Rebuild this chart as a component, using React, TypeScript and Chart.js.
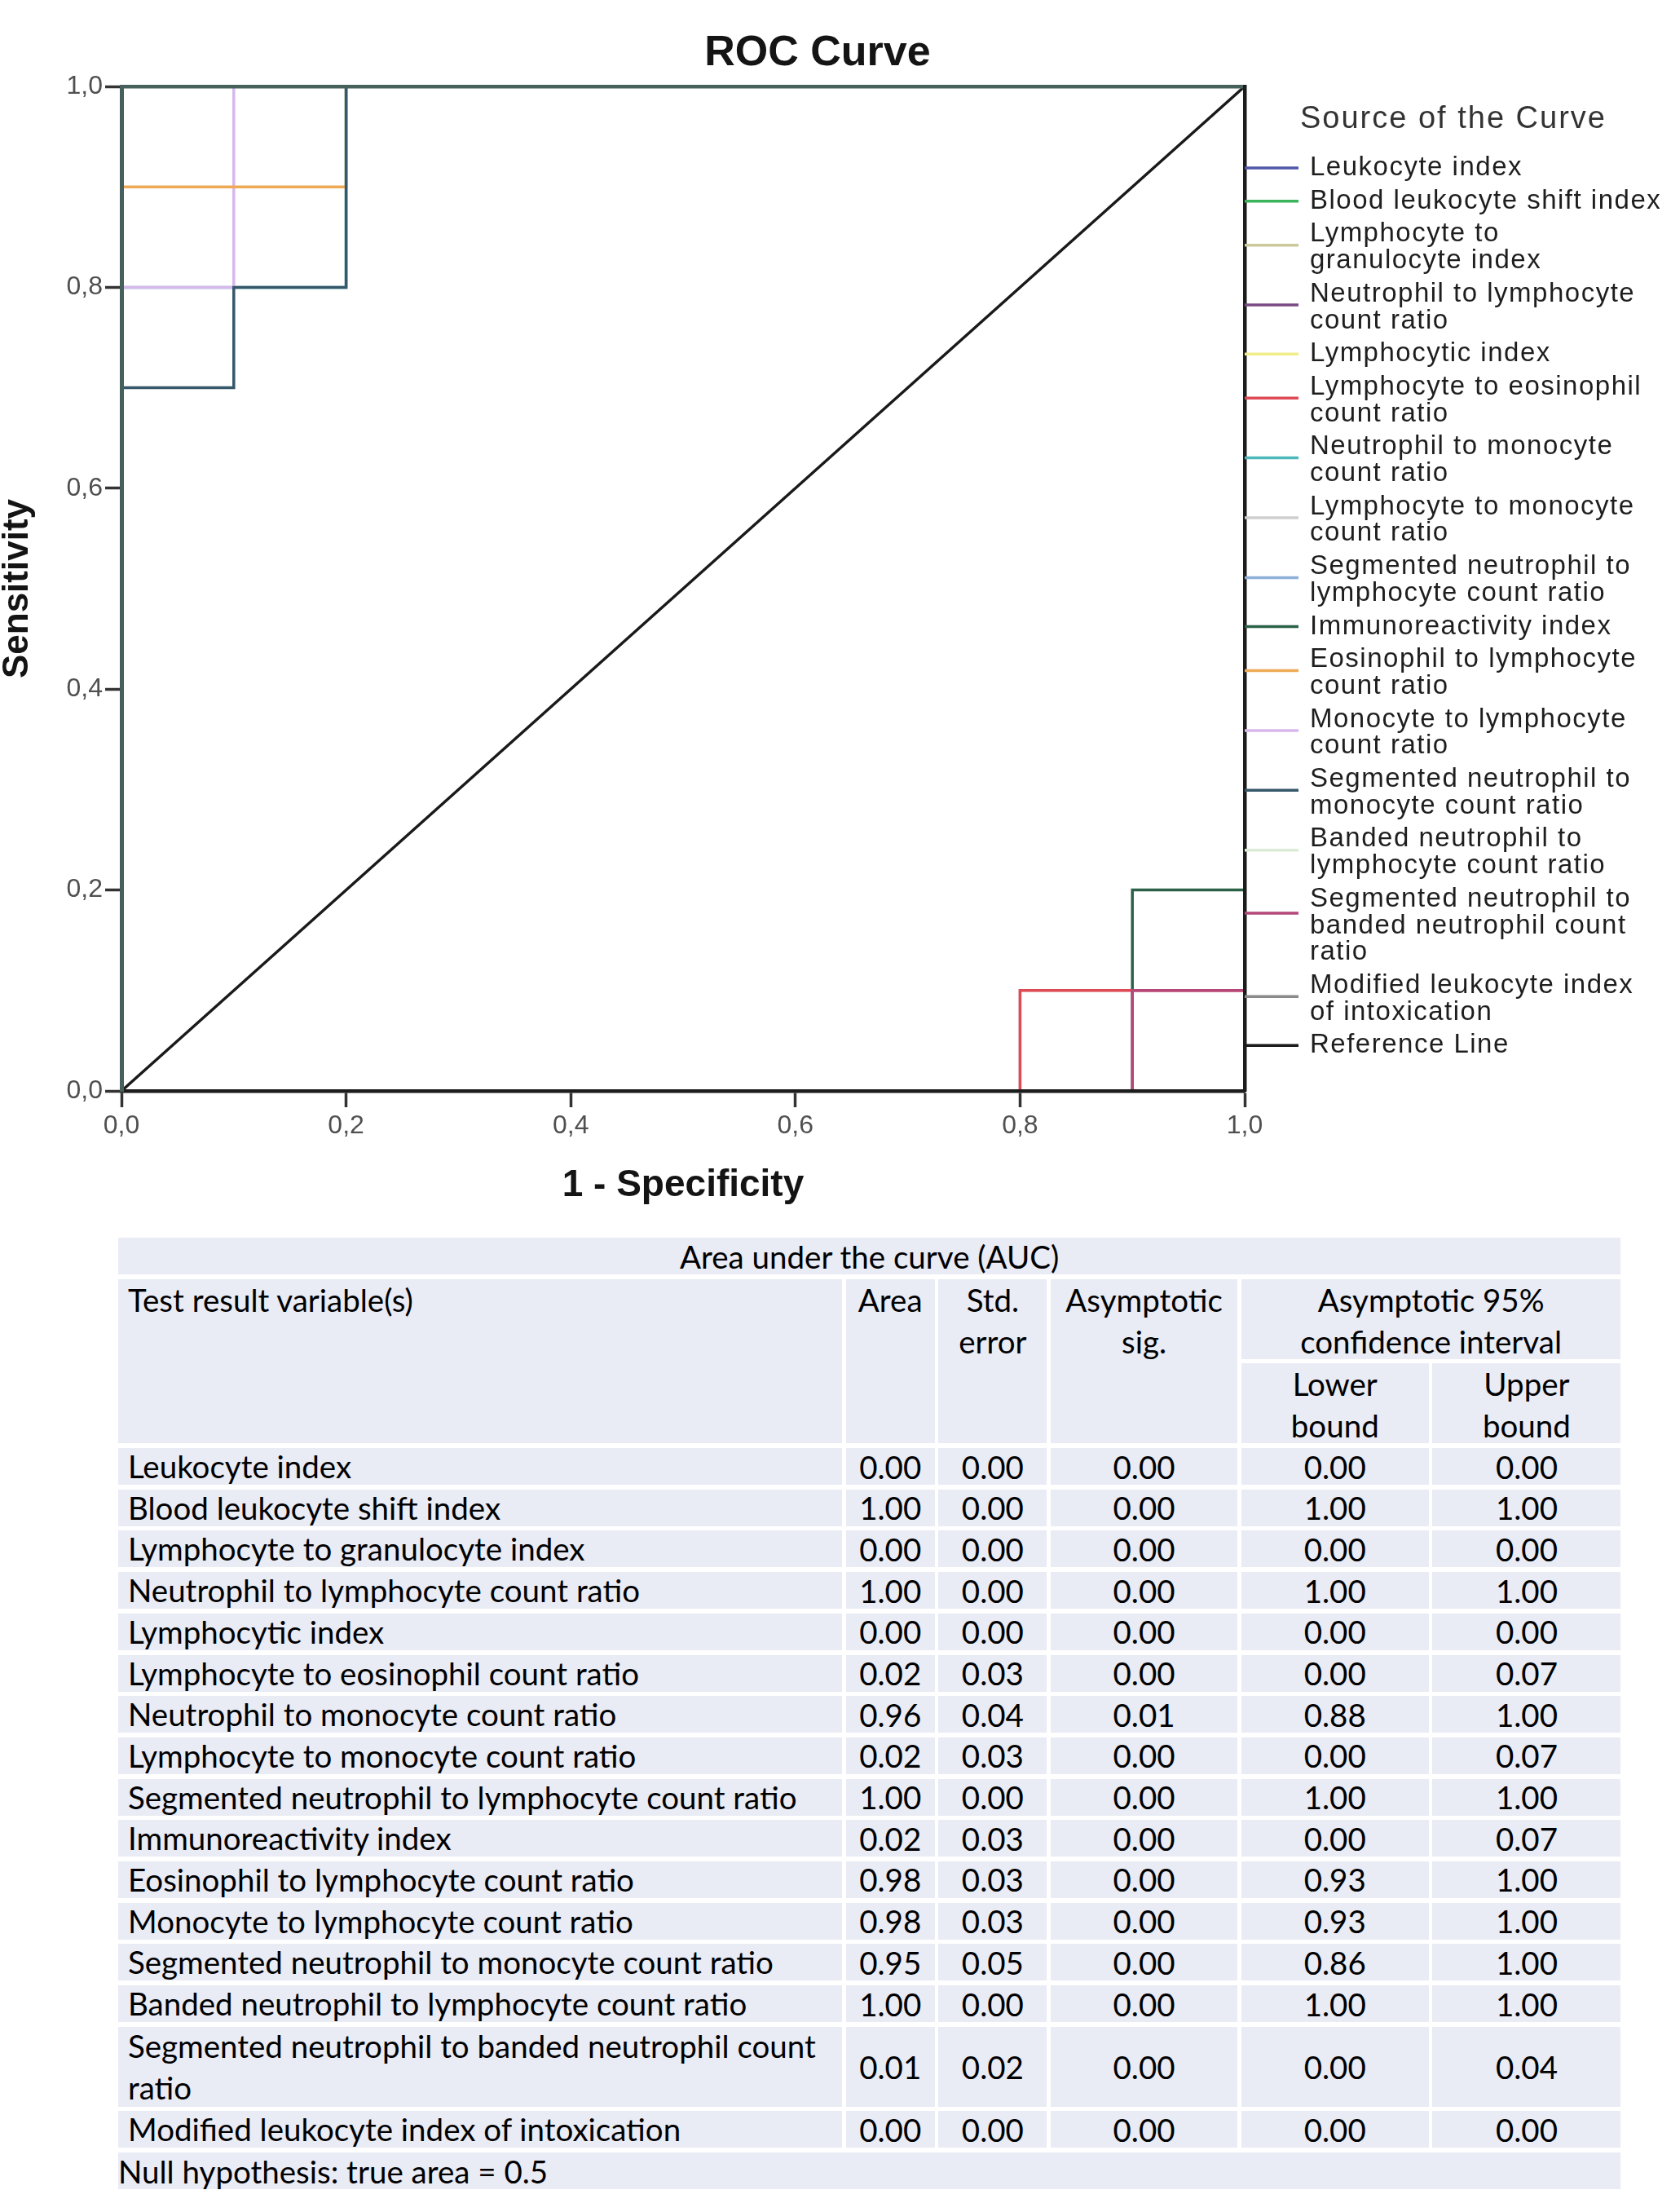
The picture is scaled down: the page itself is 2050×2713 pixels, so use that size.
import React, { useEffect, useRef } from "react";
import { Chart, registerables } from "chart.js";

Chart.register(...registerables);

// ---------- DATA ----------
const chartTitle = "ROC Curve";
const legendTitle = "Source of the Curve";
const xAxisTitle = "1 - Specificity";
const yAxisTitle = "Sensitivity";
const tickLabels = ["0,0", "0,2", "0,4", "0,6", "0,8", "1,0"];

const seriesNames = [
  "Leukocyte index",
  "Blood leukocyte shift index",
  "Lymphocyte to granulocyte index",
  "Neutrophil to lymphocyte count ratio",
  "Lymphocytic index",
  "Lymphocyte to eosinophil count ratio",
  "Neutrophil to monocyte count ratio",
  "Lymphocyte to monocyte count ratio",
  "Segmented neutrophil to lymphocyte count ratio",
  "Immunoreactivity index",
  "Eosinophil to lymphocyte count ratio",
  "Monocyte to lymphocyte count ratio",
  "Segmented neutrophil to monocyte count ratio",
  "Banded neutrophil to lymphocyte count ratio",
  "Segmented neutrophil to banded neutrophil count ratio",
  "Modified leukocyte index of intoxication",
];
const referenceName = "Reference Line";

// legend labels as wrapped in the reference
const legendLabels = [
  "Leukocyte index",
  "Blood leukocyte shift index",
  "Lymphocyte to\ngranulocyte index",
  "Neutrophil to lymphocyte\ncount ratio",
  "Lymphocytic index",
  "Lymphocyte to eosinophil\ncount ratio",
  "Neutrophil to monocyte\ncount ratio",
  "Lymphocyte to monocyte\ncount ratio",
  "Segmented neutrophil to\nlymphocyte count ratio",
  "Immunoreactivity index",
  "Eosinophil to lymphocyte\ncount ratio",
  "Monocyte to lymphocyte\ncount ratio",
  "Segmented neutrophil to\nmonocyte count ratio",
  "Banded neutrophil to\nlymphocyte count ratio",
  "Segmented neutrophil to\nbanded neutrophil count\nratio",
  "Modified leukocyte index\nof intoxication",
  "Reference Line",
];

const seriesColors = [
  "#5058a8", "#3bb35a", "#cdc99a", "#7a4a86", "#f1ee8a", "#e04a55",
  "#4cb8bc", "#cfcfcf", "#8fb0d8", "#2c6248", "#eeaa55", "#d8b8ec",
  "#35586a", "#dcebd6", "#b5477a", "#8a8a8a", "#1a1a1a",
];

// ROC coordinates (1 - specificity, sensitivity)
const fprAuc0 = [0, 1, 1];
const tprAuc0 = [0, 0, 1];
const fprAuc1 = [0, 0, 1];
const tprAuc1 = [0, 1, 1];
const fprLymphEos = [0, 0.8, 0.8, 1, 1];
const tprLymphEos = [0, 0, 0.1, 0.1, 1];
const fprNeutroMono = [0, 0, 0.2, 0.2, 1];
const tprNeutroMono = [0, 0.8, 0.8, 1, 1];
const fprLymphMono = [0, 0.8, 0.8, 1, 1];
const tprLymphMono = [0, 0, 0.1, 0.1, 1];
const fprImmuno = [0, 0.9, 0.9, 1, 1];
const tprImmuno = [0, 0, 0.2, 0.2, 1];
const fprEosLymph = [0, 0, 0.2, 0.2, 1];
const tprEosLymph = [0, 0.9, 0.9, 1, 1];
const fprMonoLymph = [0, 0, 0.1, 0.1, 1];
const tprMonoLymph = [0, 0.8, 0.8, 1, 1];
const fprSegMono = [0, 0, 0.1, 0.1, 0.2, 0.2, 1];
const tprSegMono = [0, 0.7, 0.7, 0.8, 0.8, 1, 1];
const fprSegBand = [0, 0.9, 0.9, 1, 1];
const tprSegBand = [0, 0, 0.1, 0.1, 1];
const fprReference = [0, 1];
const tprReference = [0, 1];

const curveFpr = [
  fprAuc0, fprAuc1, fprAuc0, fprAuc1, fprAuc0, fprLymphEos, fprNeutroMono,
  fprLymphMono, fprAuc1, fprImmuno, fprEosLymph, fprMonoLymph, fprSegMono,
  fprAuc1, fprSegBand, fprAuc0, fprReference,
];
const curveTpr = [
  tprAuc0, tprAuc1, tprAuc0, tprAuc1, tprAuc0, tprLymphEos, tprNeutroMono,
  tprLymphMono, tprAuc1, tprImmuno, tprEosLymph, tprMonoLymph, tprSegMono,
  tprAuc1, tprSegBand, tprAuc0, tprReference,
];
// lower = drawn on top
const drawOrder = [6, 6, 6, 6, 6, 3, 5, 4, 6, 4, 2, 3, 1, 6, 1, 6, 0];

// AUC table
const areaValues = [0.0, 1.0, 0.0, 1.0, 0.0, 0.02, 0.96, 0.02, 1.0, 0.02, 0.98, 0.98, 0.95, 1.0, 0.01, 0.0];
const stdErrorValues = [0.0, 0.0, 0.0, 0.0, 0.0, 0.03, 0.04, 0.03, 0.0, 0.03, 0.03, 0.03, 0.05, 0.0, 0.02, 0.0];
const sigValues = [0.0, 0.0, 0.0, 0.0, 0.0, 0.0, 0.01, 0.0, 0.0, 0.0, 0.0, 0.0, 0.0, 0.0, 0.0, 0.0];
const lowerValues = [0.0, 1.0, 0.0, 1.0, 0.0, 0.0, 0.88, 0.0, 1.0, 0.0, 0.93, 0.93, 0.86, 1.0, 0.0, 0.0];
const upperValues = [0.0, 1.0, 0.0, 1.0, 0.0, 0.07, 1.0, 0.07, 1.0, 0.07, 1.0, 1.0, 1.0, 1.0, 0.04, 0.0];
const tableCaption = "Area under the curve (AUC)";
const tableFootnote = "Null hypothesis: true area = 0.5";

// ---------- CHART ----------
const CHART_FONT = '"Liberation Sans", Arial, sans-serif';

const overlayPlugin = {
  id: "rocOverlay",
  afterDraw(chart: any) {
    const { ctx, chartArea } = chart;
    ctx.save();
    ctx.fillStyle = "#141414";
    ctx.font = `bold 52px ${CHART_FONT}`;
    ctx.textAlign = "center";
    ctx.textBaseline = "middle";
    ctx.fillText(chartTitle, 1003, 66);

    // legend
    ctx.textAlign = "left";
    ctx.fillStyle = "#333";
    ctx.font = `38px ${CHART_FONT}`;
    (ctx as any).letterSpacing = "2px";
    ctx.fillText(legendTitle, 1595, 147);

    ctx.font = `33px ${CHART_FONT}`;
    (ctx as any).letterSpacing = "1.5px";
    const lh = 32.7;
    const gap = 8;
    let top = 189.6;
    const names = [...seriesNames, referenceName];
    names.forEach((_, i) => {
      const lines = legendLabels[i].split("\n");
      const n = lines.length;
      let sampleY: number;
      if (n === 1) sampleY = top + lh / 2;
      else if (n === 2) sampleY = top + lh - 3;
      else sampleY = top + lh + 1;
      ctx.strokeStyle = seriesColors[i];
      ctx.lineWidth = 3.5;
      ctx.beginPath();
      ctx.moveTo(chartArea.right, sampleY);
      ctx.lineTo(chartArea.right + 66, sampleY);
      ctx.stroke();
      ctx.fillStyle = "#1e1e1e";
      lines.forEach((ln, k) => {
        ctx.fillText(ln, 1607, top + lh * (k + 0.5));
      });
      top += n * lh + gap;
    });
    ctx.restore();
  },
};

function RocChart() {
  const ref = useRef<HTMLCanvasElement | null>(null);
  useEffect(() => {
    if (!ref.current) return;
    const names = [...seriesNames, referenceName];
    const datasets = names.map((name, i) => ({
      label: name,
      data: curveFpr[i].map((x, k) => ({ x, y: curveTpr[i][k] })),
      borderColor: seriesColors[i],
      backgroundColor: seriesColors[i],
      borderWidth: 3.5,
      pointRadius: 0,
      showLine: true,
      fill: false,
      tension: 0,
      order: drawOrder[i],
      borderCapStyle: "square" as const,
    }));
    const tickCb = (_v: any, idx: number) => tickLabels[idx];
    const chart = new Chart(ref.current, {
      type: "scatter",
      data: { datasets },
      options: {
        animation: false,
        responsive: false,
        devicePixelRatio: 1,
        layout: { padding: { left: 0, right: 523, top: 106, bottom: 0 } },
        plugins: { legend: { display: false }, tooltip: { enabled: false }, title: { display: false } },
        scales: {
          x: {
            type: "linear",
            position: "bottom",
            min: 0,
            max: 1,
            afterFit: (s: any) => { s.height = 162; },
            ticks: { stepSize: 0.2, callback: tickCb, color: "#505050", padding: 4, font: { family: CHART_FONT, size: 32 }, maxRotation: 0 },
            grid: { display: true, drawOnChartArea: false, drawTicks: true, tickLength: 20, tickWidth: 3.5, tickColor: "#333" },
            border: { display: true, color: "#1c1c1c", width: 4.5, z: 1 },
            title: { display: true, text: xAxisTitle, color: "#141414", font: { family: CHART_FONT, size: 46, weight: "bold", lineHeight: 1.2 }, padding: { top: 0, bottom: 18 } },
          },
          y: {
            type: "linear",
            position: "left",
            min: 0,
            max: 1,
            afterFit: (s: any) => { s.width = 149; },
            ticks: { stepSize: 0.2, callback: tickCb, color: "#505050", padding: 3, font: { family: CHART_FONT, size: 32 } },
            grid: { display: true, drawOnChartArea: false, drawTicks: true, tickLength: 20, tickWidth: 3.5, tickColor: "#333" },
            border: { display: true, color: "#46605c", width: 5, z: 1 },
            title: { display: true, text: yAxisTitle, color: "#141414", font: { family: CHART_FONT, size: 44, weight: "bold", lineHeight: 1 }, padding: 0 },
          },
          x2: {
            type: "linear",
            axis: "x",
            position: "top",
            min: 0,
            max: 1,
            afterFit: (s: any) => { s.height = 0; },
            ticks: { display: false },
            grid: { display: false, drawTicks: false },
            border: { display: true, color: "#46605c", width: 4.5, z: 1 },
          },
          y2: {
            type: "linear",
            axis: "y",
            position: "right",
            min: 0,
            max: 1,
            afterFit: (s: any) => { s.width = 0; },
            ticks: { display: false },
            grid: { display: false, drawTicks: false },
            border: { display: true, color: "#1c1c1c", width: 4.5, z: 1 },
          },
        },
      } as any,
      plugins: [overlayPlugin],
    });
    return () => chart.destroy();
  }, []);
  return <canvas ref={ref} width={2050} height={1500} style={{ position: "absolute", left: 0, top: 0, width: 2050, height: 1500 }} />;
}

// ---------- TABLE ----------
const TABLE_FONT = 'Lato, "Open Sans", sans-serif';
const BG = "#e9ebf5";

function AucTable() {
  const fmt = (v: number) => v.toFixed(2);
  const cell = (extra: React.CSSProperties = {}): React.CSSProperties => ({
    background: BG,
    display: "flex",
    alignItems: "center",
    justifyContent: "center",
    textAlign: "center",
    ...extra,
  });
  const rowsTemplate = ["45px", "98px", "98px", ...seriesNames.map((n, i) => (i === 14 ? "98px" : "45px")), "45px"].join(" ");
  const dataStart = 4; // grid row index (1-based) where data begins
  return (
    <div
      style={{
        position: "absolute",
        left: 145,
        top: 1518,
        display: "grid",
        gridTemplateColumns: "888px 109px 133px 229px 230px 231px",
        gridTemplateRows: rowsTemplate,
        columnGap: "4.7px",
        rowGap: "5.7px",
        fontFamily: TABLE_FONT,
        fontSize: 38.5,
        color: "#000",
      }}
    >
      <div style={cell({ gridColumn: "1 / 7", gridRow: "1" })}>{tableCaption}</div>
      <div style={cell({ gridColumn: "1", gridRow: "2 / 4", alignItems: "flex-start", justifyContent: "flex-start", paddingLeft: 12, lineHeight: "51px" })}>Test result variable(s)</div>
      <div style={cell({ gridColumn: "2", gridRow: "2 / 4", alignItems: "flex-start", lineHeight: "51px" })}>Area</div>
      <div style={cell({ gridColumn: "3", gridRow: "2 / 4", alignItems: "flex-start", lineHeight: "51px" })}>Std.<br />error</div>
      <div style={cell({ gridColumn: "4", gridRow: "2 / 4", alignItems: "flex-start", lineHeight: "51px" })}>Asymptotic<br />sig.</div>
      <div style={cell({ gridColumn: "5 / 7", gridRow: "2", alignItems: "flex-start", lineHeight: "51px" })}>Asymptotic 95%<br />confidence interval</div>
      <div style={cell({ gridColumn: "5", gridRow: "3", alignItems: "flex-start", lineHeight: "51px" })}>Lower<br />bound</div>
      <div style={cell({ gridColumn: "6", gridRow: "3", alignItems: "flex-start", lineHeight: "51px" })}>Upper<br />bound</div>
      {seriesNames.map((name, i) => {
        const r = String(dataStart + i);
        return (
          <React.Fragment key={name}>
            <div style={cell({ gridColumn: "1", gridRow: r, justifyContent: "flex-start", textAlign: "left", paddingLeft: 12, lineHeight: "51px" })}>{name}</div>
            <div style={cell({ gridColumn: "2", gridRow: r })}>{fmt(areaValues[i])}</div>
            <div style={cell({ gridColumn: "3", gridRow: r })}>{fmt(stdErrorValues[i])}</div>
            <div style={cell({ gridColumn: "4", gridRow: r })}>{fmt(sigValues[i])}</div>
            <div style={cell({ gridColumn: "5", gridRow: r })}>{fmt(lowerValues[i])}</div>
            <div style={cell({ gridColumn: "6", gridRow: r })}>{fmt(upperValues[i])}</div>
          </React.Fragment>
        );
      })}
      <div style={cell({ gridColumn: "1 / 7", gridRow: String(dataStart + seriesNames.length), justifyContent: "flex-start" })}>{tableFootnote}</div>
    </div>
  );
}

export default function App() {
  return (
    <div style={{ position: "absolute", left: 0, top: 0, width: 2050, height: 2713, background: "#fff", overflow: "hidden" }}>
      <RocChart />
      <AucTable />
    </div>
  );
}
